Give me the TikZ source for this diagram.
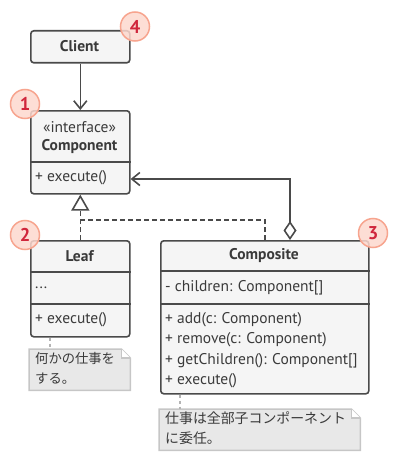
\documentclass[tikz,border=0pt]{standalone}
\usepackage{fontspec}
\setmainfont{PT Sans}
\newfontfamily\jp{Noto Sans CJK JP}
\usetikzlibrary{arrows.meta}
\definecolor{ln}{HTML}{4A4A4A}
\definecolor{bx}{HTML}{F5F5F5}
\definecolor{nt}{HTML}{E8E8E8}
\definecolor{ntl}{HTML}{C6C6C6}
\definecolor{nc}{HTML}{B4B4B4}
\definecolor{bdf}{HTML}{FDD8CE}
\definecolor{bdl}{HTML}{F7A48E}
\definecolor{bdt}{HTML}{D0263C}
\definecolor{tx}{HTML}{3A3A3A}
\tikzset{
  classbox/.style={draw=ln, fill=bx, line width=1.6pt, rounded corners=3pt, inner sep=0pt, anchor=north west},
  divider/.style={draw=ln, line width=1.6pt},
  conn/.style={draw=ln, line width=1.6pt},
  ttl/.style={font=\bfseries\fontsize{15.5}{17}\selectfont, text=tx, inner sep=0pt},
  mem/.style={font=\fontsize{15.5}{17}\selectfont, text=tx, inner sep=0pt, anchor=west},
  notebox/.style={inner sep=0pt, anchor=north west},
  noteline/.style={draw=ntl, fill=nt, line width=1.5pt},
  notetext/.style={font=\jp\fontsize{13.9}{20}\selectfont, text=tx, align=left, inner sep=0pt, anchor=north west},
  noteconn/.style={draw=nc, line width=1.2pt, dash pattern=on 3pt off 3pt},
  badge/.style={circle, minimum size=29pt, inner sep=0pt, fill=bdf, fill opacity=0.85, text opacity=1, draw=bdl, line width=1.5pt, text=bdt, font=\bfseries\fontsize{18.5}{18}\selectfont},
  openarrow/.style={-{Straight Barb[length=8pt,width=13pt,line width=1.6pt]}},
}
\begin{document}
\begin{tikzpicture}[x=1pt,y=-1pt]
\useasboundingbox (0,0) rectangle (400,460);
% boxes
\node[classbox, minimum width=99pt, minimum height=32pt] (client) at (30,30) {};
\node[classbox, minimum width=99pt, minimum height=83pt] (comp) at (30,110) {};
\node[classbox, minimum width=99pt, minimum height=96pt] (leaf) at (30,240) {};
\node[classbox, minimum width=208pt, minimum height=153pt] (compo) at (160,240) {};
% dividers
\draw[divider] (comp.west |- 0,162) -- (comp.east |- 0,162);
\draw[divider] (leaf.west |- 0,272) -- (leaf.east |- 0,272);
\draw[divider] (leaf.west |- 0,304) -- (leaf.east |- 0,304);
\draw[divider] (compo.west |- 0,271) -- (compo.east |- 0,271);
\draw[divider] (compo.west |- 0,304) -- (compo.east |- 0,304);
% texts
\node[ttl] (tclient) at (79.5,46) {Client};
\node[mem, anchor=center] (tint) at (79.5,127) {«interface»};
\node[ttl] (tcomp) at (79.5,147) {Component};
\node[mem] (tcex) at (35,178) {+ execute()};
\node[ttl] (tleaf) at (79.5,256) {Leaf};
\node[mem] (tldots) at (35,288) {...};
\node[mem] (tlex) at (35,320) {+ execute()};
\node[ttl] (tcompo) at (264,256) {Composite};
\node[mem] (tch) at (165,288) {- children: Component[]};
\node[mem] (tadd) at (165,319.5) {+ add(c: Component)};
\node[mem] (trem) at (165,340) {+ remove(c: Component)};
\node[mem] (tget) at (165,360.5) {+ getChildren(): Component[]};
\node[mem] (tcoex) at (165,381) {+ execute()};
% connectors
\draw[conn, openarrow] (client.south) -- (comp.north);
\coordinate (aggbend) at (290,179);
\draw[conn, {Diamond[open,fill=white,length=19pt,width=13pt,line width=1.6pt]}-{Straight Barb[length=8pt,width=13pt,line width=1.6pt]}]
  (compo.north -| aggbend) -- (aggbend) -- (comp.east |- aggbend);
\coordinate (join) at (79.5,220);
\draw[conn, dash pattern=on 5pt off 3pt, -{Triangle[open,fill=white,length=16pt,width=18pt,line width=1.6pt]}] (leaf.north) -- (comp.south);
\draw[conn, dash pattern=on 5pt off 3pt] (compo.north) |- (join);
% notes
\node[notebox, minimum width=101pt, minimum height=41pt] (lnote) at (29,349) {};
\draw[noteline] (lnote.north west) -- ([xshift=-9pt]lnote.north east) -- ([yshift=-9pt]lnote.north east) -- (lnote.south east) -- (lnote.south west) -- cycle;
\draw[draw=ntl, line width=1.5pt, fill=white] ([xshift=-9pt]lnote.north east) -- ([xshift=-9pt,yshift=-9pt]lnote.north east) -- ([yshift=-9pt]lnote.north east);
\node[notetext, font=\jp\fontsize{13.3}{20}\selectfont] (lnotet) at (35,352) {何かの仕事を\\する。};
\node[notebox, minimum width=201pt, minimum height=41pt] (cnote) at (159,409) {};
\draw[noteline] (cnote.north west) -- ([xshift=-9pt]cnote.north east) -- ([yshift=-9pt]cnote.north east) -- (cnote.south east) -- (cnote.south west) -- cycle;
\draw[draw=ntl, line width=1.5pt, fill=white] ([xshift=-9pt]cnote.north east) -- ([xshift=-9pt,yshift=-9pt]cnote.north east) -- ([yshift=-9pt]cnote.north east);
\node[notetext] (cnotet) at (165,411.5) {仕事は全部子コンポーネント\\に委任。};
\draw[noteconn] (leaf.south -| 50,0) -- (lnote.north -| 50,0);
\draw[noteconn] (compo.south -| 180,0) -- (cnote.north -| 180,0);
% badges
\node[badge] (b1) at (25,104) {1};
\node[badge] (b2) at (25,235) {2};
\node[badge] (b3) at (373,233) {3};
\node[badge] (b4) at (135,26.5) {4};
\end{tikzpicture}
\end{document}
